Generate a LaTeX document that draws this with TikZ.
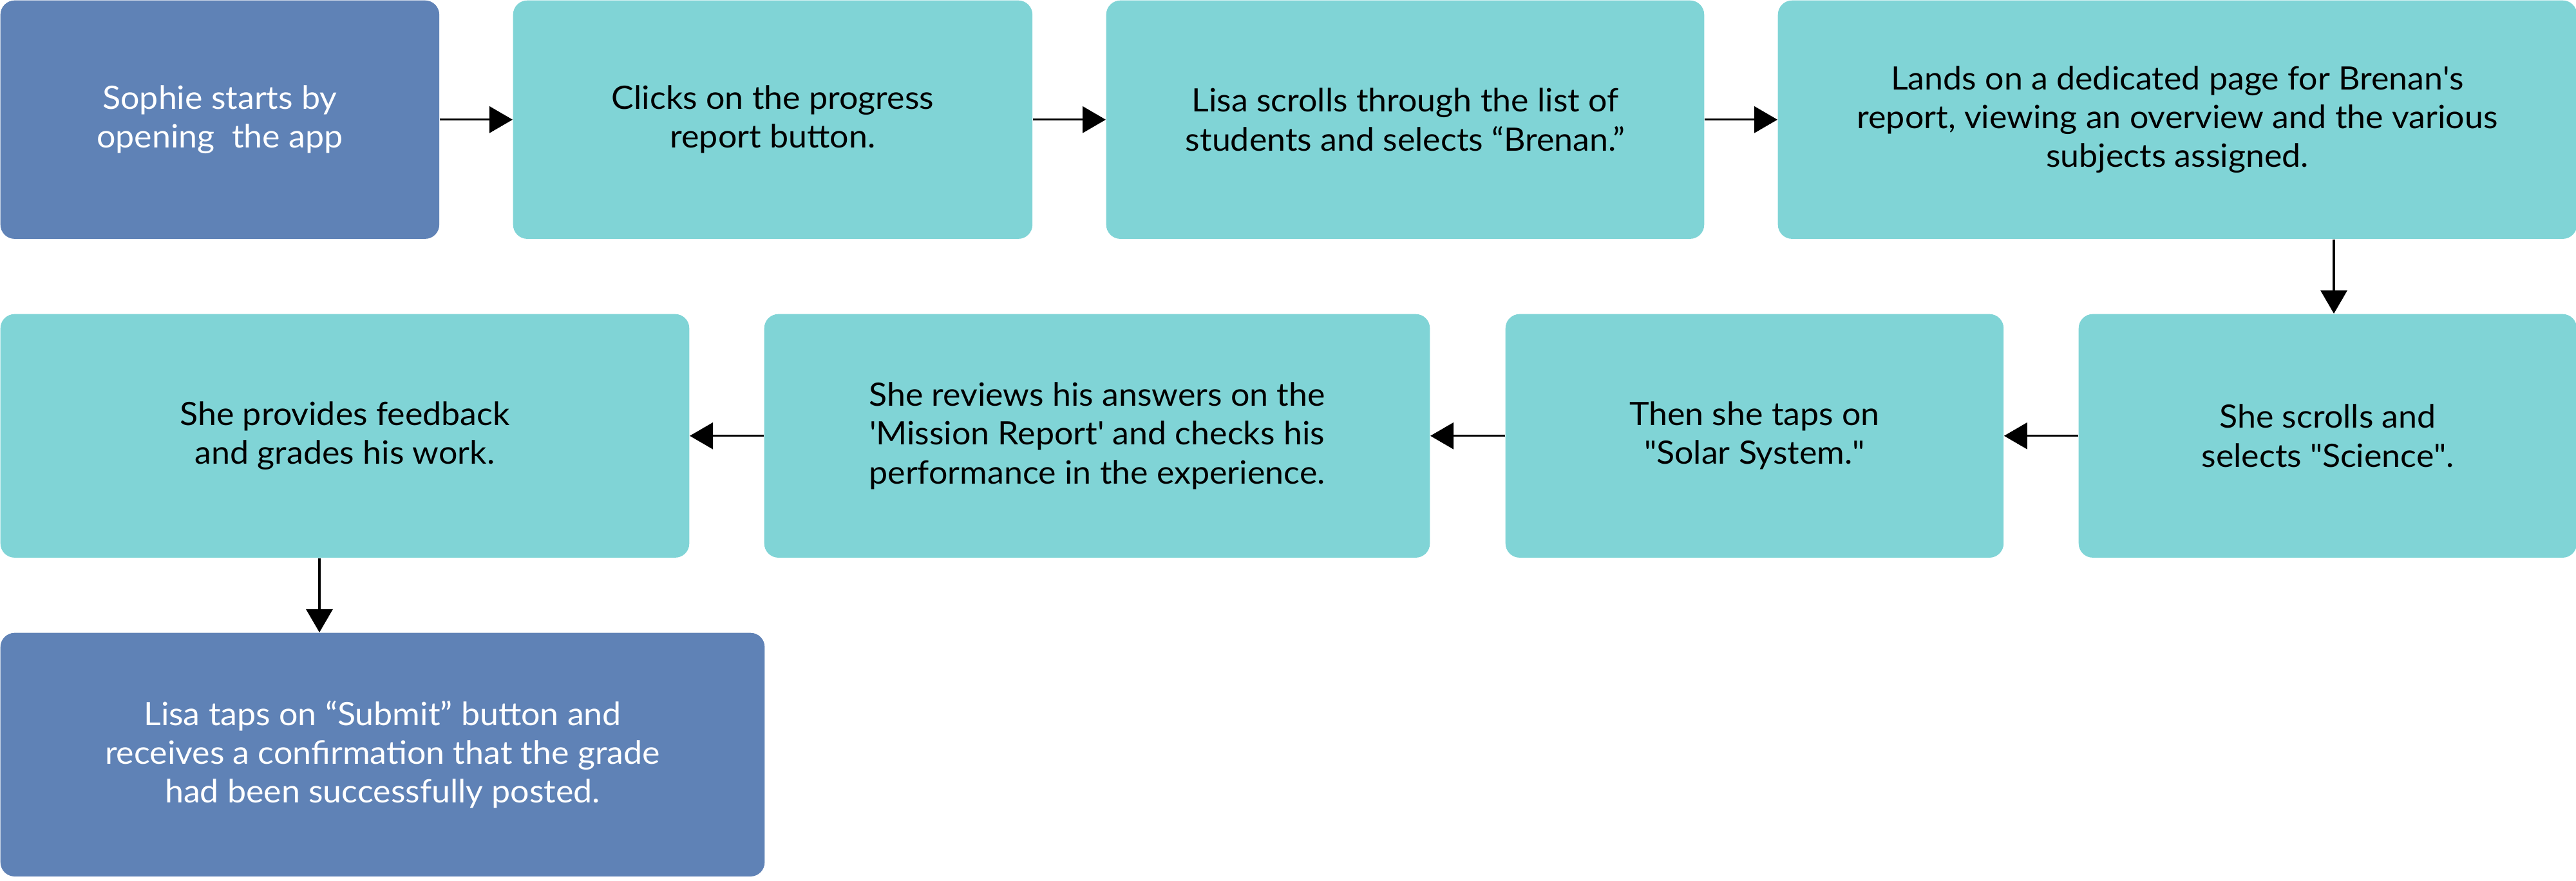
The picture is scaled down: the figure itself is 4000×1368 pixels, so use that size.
\documentclass[tikz,border=0pt]{standalone}
\usepackage{fontspec}
\setmainfont[FakeStretch=1.04]{Lato}
\usetikzlibrary{arrows.meta}
\definecolor{stepblue}{HTML}{5F82B6}
\definecolor{stepteal}{HTML}{80D4D6}
\newcommand{\sq}{\textquotesingle}
\newcommand{\dq}{\textquotedbl}
\tikzset{
  stepbox/.style={rectangle, rounded corners=0.22cm, inner sep=0pt,
    anchor=north west, align=center,
    font=\fontsize{14.2pt}{17.1pt}\selectfont},
  bluebox/.style={stepbox, fill=stepblue, text=white},
  tealbox/.style={stepbox, fill=stepteal, text=black},
  flow/.style={draw=black, line width=0.033cm,
    -{Triangle[length=0.36cm, width=0.41cm]}},
}
\begin{document}
\begin{tikzpicture}[x=0.01cm, y=-0.01cm]
\useasboundingbox (0,0) rectangle (4000,1368);

% first row
\node[bluebox, minimum width=6.81cm, minimum height=3.70cm] (b1) at (0,0)
  {Sophie starts by\\opening\ \ the app};
\node[tealbox, minimum width=8.06cm, minimum height=3.70cm] (b2) at (796,0)
  {Clicks on the progress\\report button.};
\node[tealbox, minimum width=9.28cm, minimum height=3.70cm] (b3) at (1717,0)
  {Lisa scrolls through the list of\\students and selects “Brenan.”};
\node[tealbox, minimum width=12.40cm, minimum height=3.70cm] (b4) at (2760,0)
  {Lands on a dedicated page for Brenan\sq s\\report, viewing an overview and the various\\subjects assigned.};

% second row
\node[tealbox, minimum width=7.73cm, minimum height=3.78cm] (b5) at (3227,487)
  {She scrolls and\\selects \dq Science\dq.};
\node[tealbox, minimum width=7.73cm, minimum height=3.78cm] (b6) at (2337,487)
  {Then she taps on\\\dq Solar System.\dq};
\node[tealbox, minimum width=10.33cm, minimum height=3.78cm] (b7) at (1186,487)
  {She reviews his answers on the\\\sq Mission Report\sq\ and checks his\\performance in the experience.};
\node[tealbox, minimum width=10.69cm, minimum height=3.78cm] (b8) at (0,487)
  {She provides feedback\\and grades his work.};

% third row
\node[bluebox, minimum width=11.86cm, minimum height=3.78cm] (b9) at (0,982)
  {Lisa taps on “Submit” button and\\receives a confirmation that the grade\\had been successfully posted.};

% columns of the downward connectors
\coordinate (c1) at (3624,0);
\coordinate (c2) at (496,0);

\draw[flow] (b1.east) -- (b2.west);
\draw[flow] (b2.east) -- (b3.west);
\draw[flow] (b3.east) -- (b4.west);
\draw[flow] (c1 |- b4.south) -- (c1 |- b5.north);
\draw[flow] (b5.west) -- (b6.east);
\draw[flow] (b6.west) -- (b7.east);
\draw[flow] (b7.west) -- (b8.east);
\draw[flow] (c2 |- b8.south) -- (c2 |- b9.north);
\end{tikzpicture}
\end{document}
